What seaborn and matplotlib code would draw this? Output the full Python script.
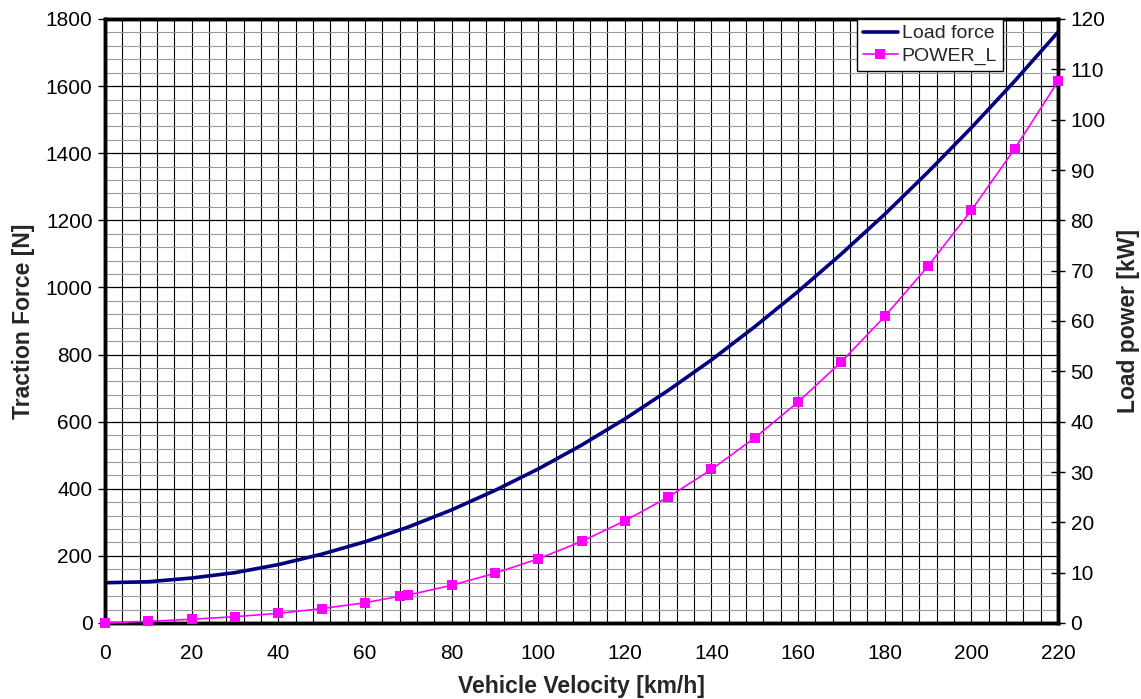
import matplotlib
matplotlib.use("Agg")
import matplotlib.pyplot as plt
import seaborn as sns
import pandas as pd
from matplotlib.ticker import MultipleLocator

# ---- data ----
velocity = [0, 10, 20, 30, 40, 50, 60, 70, 80, 90, 100, 110, 120, 130, 140,
            150, 160, 170, 180, 190, 200, 210, 220]
load_force = [120, 123, 134, 150, 174, 205, 242, 286, 337, 395, 459, 530, 608,
              693, 784, 883, 988, 1100, 1218, 1344, 1476, 1615, 1761]

power_velocity = [0, 10, 20, 30, 40, 50, 60, 68, 70, 80, 90, 100, 110, 120,
                  130, 140, 150, 160, 170, 180, 190, 200, 210, 220]
power_l = [0, 0.34, 0.74, 1.25, 1.93, 2.85, 4.03, 5.3, 5.56, 7.49, 9.88, 12.75,
           16.2, 20.3, 25.0, 30.5, 36.8, 43.9, 51.9, 60.9, 70.9, 82.0, 94.2, 107.6]

force_df = pd.DataFrame({"v": velocity, "F": load_force})
power_df = pd.DataFrame({"v": power_velocity, "P": power_l})

sns.set_style("white")
plt.rcParams["font.family"] = ["Liberation Sans", "DejaVu Sans"]

fig = plt.figure(figsize=(11.41, 6.99), dpi=100)
ax = fig.add_axes([105/1141, 76/699, 953/1141, 604/699])
ax2 = ax.twinx()

sns.lineplot(data=force_df, x="v", y="F", ax=ax, color="#000080", lw=2.6,
             label="Load force", legend=False, zorder=5)
sns.lineplot(data=power_df, x="v", y="P", ax=ax2, color="#FF00FF", lw=1.2,
             marker="s", markersize=7.5, markeredgewidth=0, label="POWER_L",
             legend=False, clip_on=False, zorder=6)

ax.set_xlim(0, 220)
ax.set_ylim(0, 1800)
ax2.set_ylim(0, 120)

ax.xaxis.set_major_locator(MultipleLocator(20))
ax.xaxis.set_minor_locator(MultipleLocator(4))
ax.yaxis.set_major_locator(MultipleLocator(200))
ax.yaxis.set_minor_locator(MultipleLocator(40))
ax2.yaxis.set_major_locator(MultipleLocator(10))

ax.grid(which="both", axis="x", color="black", lw=0.8)
ax.grid(which="minor", axis="y", color="#9a9a9a", lw=0.8)
ax.grid(which="major", axis="y", color="black", lw=0.9)
ax.set_axisbelow(True)

fs = 15
ax.tick_params(which="minor", length=0)
ax.tick_params(axis="x", which="major", direction="out", length=5, width=1,
               labelsize=fs, colors="black", pad=10)
ax.tick_params(axis="y", which="major", direction="out", length=5, width=1,
               labelsize=fs, colors="black", pad=4)
ax2.tick_params(axis="y", which="major", direction="inout", length=10, width=1,
                labelsize=fs, colors="black", pad=4)

for a in (ax, ax2):
    for s in a.spines.values():
        s.set_visible(True)
        s.set_color("black")
        s.set_linewidth(2.5)
        s.set_zorder(4)

lfs = 16.5
ax.set_xlabel("Vehicle Velocity [km/h]", fontsize=lfs, fontweight="bold", labelpad=9)
ax.set_ylabel("Traction Force [N]", fontsize=lfs, fontweight="bold", labelpad=8)
ax2.set_ylabel("Load power [kW]", fontsize=lfs, fontweight="bold", labelpad=8)

h1, l1 = ax.get_legend_handles_labels()
h2, l2 = ax2.get_legend_handles_labels()
leg = ax2.legend(h1 + h2, l1 + l2, loc="upper right",
                 bbox_to_anchor=((1003 - 105) / 953, 1.0), borderaxespad=0,
                 frameon=True, fancybox=False, fontsize=14, handlelength=1.8,
                 handletextpad=0.2, borderpad=0.3, labelspacing=0.25)
leg.get_frame().set_edgecolor("black")
leg.get_frame().set_linewidth(1)
leg.get_frame().set_facecolor("white")
leg.get_frame().set_alpha(1)
leg.set_zorder(10)

fig.savefig("out.png", dpi=100)
